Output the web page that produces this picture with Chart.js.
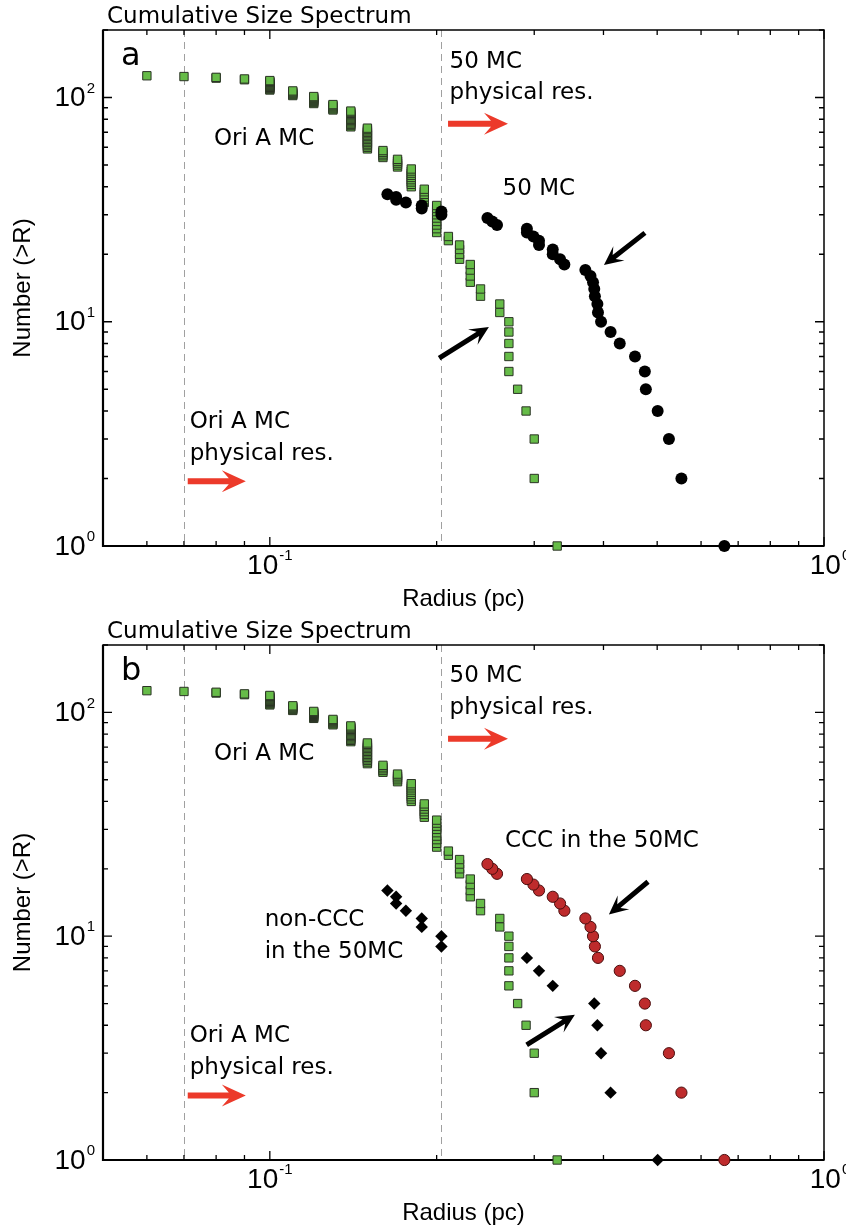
<!DOCTYPE html>
<html>
<head>
<meta charset="utf-8">
<title>Cumulative Size Spectrum</title>
<script src="https://cdn.jsdelivr.net/npm/chart.js@4.4.1/dist/chart.umd.min.js"></script>
<style>
    html, body { margin: 0; padding: 0; background: #fff; }
    canvas { display: block; }
</style>
</head>
<body>
<canvas id="graficoA" width="846" height="616"></canvas>
<canvas id="graficoB" width="846" height="616"></canvas>
<script>
// Ori A MC clumps (green squares): radius (pc) and cumulative number N(>R)
const oriRadius = [
    0.06,
    0.07,
    0.08, 0.08,
    0.09, 0.09,
    0.10, 0.10, 0.10, 0.10, 0.10, 0.10, 0.10, 0.10, 0.10, 0.10, 0.10, 0.10,
    0.11, 0.11, 0.11, 0.11, 0.11, 0.11,
    0.12, 0.12, 0.12, 0.12, 0.12, 0.12, 0.12, 0.12,
    0.13, 0.13, 0.13, 0.13, 0.13, 0.13,
    0.14, 0.14, 0.14, 0.14, 0.14, 0.14, 0.14, 0.14, 0.14, 0.14, 0.14, 0.14, 0.14, 0.14,
    0.15, 0.15, 0.15, 0.15, 0.15, 0.15, 0.15, 0.15, 0.15, 0.15, 0.15, 0.15, 0.15, 0.15, 0.15,
    0.16, 0.16, 0.16, 0.16, 0.16,
    0.17, 0.17, 0.17, 0.17, 0.17,
    0.18, 0.18, 0.18, 0.18, 0.18, 0.18, 0.18, 0.18, 0.18,
    0.19, 0.19, 0.19, 0.19, 0.19, 0.19,
    0.20, 0.20, 0.20, 0.20, 0.20, 0.20, 0.20, 0.20, 0.20,
    0.21, 0.21,
    0.22, 0.22, 0.22, 0.22,
    0.23, 0.23, 0.23, 0.23,
    0.24, 0.24,
    0.26, 0.26,
    0.27, 0.27, 0.27, 0.27, 0.27,
    0.28,
    0.29,
    0.30, 0.30,
    0.33
];
const oriN = [
    125,
    124,
    123, 122,
    121, 120,
    119, 118, 117, 116, 115, 114, 113, 112, 111, 110, 109, 108,
    107, 106, 105, 104, 103, 102,
    101, 100, 99, 98, 97, 96, 95, 94,
    93, 92, 91, 90, 89, 88,
    87, 86, 85, 84, 83, 82, 81, 80, 79, 78, 77, 76, 75, 74,
    73, 72, 71, 70, 69, 68, 67, 66, 65, 64, 63, 62, 61, 60, 59,
    58, 57, 56, 55, 54,
    53, 52, 51, 50, 49,
    48, 47, 46, 45, 44, 43, 42, 41, 40,
    39, 38, 37, 36, 35, 34,
    33, 32, 31, 30, 29, 28, 27, 26, 25,
    24, 23,
    22, 21, 20, 19,
    18, 17, 16, 15,
    14, 13,
    12, 11,
    10, 9, 8, 7, 6,
    5,
    4,
    3, 2,
    1
];

// 50 MC, all clumps (panel a, black circles)
const mcRadius = [0.163, 0.169, 0.169, 0.176, 0.188, 0.188, 0.204, 0.204, 0.247, 0.252,
    0.257, 0.291, 0.291, 0.299, 0.306, 0.306, 0.324, 0.324, 0.334, 0.340,
    0.371, 0.379, 0.383, 0.385, 0.386, 0.390, 0.391, 0.396, 0.412, 0.428,
    0.456, 0.475, 0.477, 0.501, 0.525, 0.553, 0.661];
const mcN = [37, 36, 35, 34, 33, 32, 31, 30, 29, 28,
    27, 26, 25, 24, 23, 22, 21, 20, 19, 18,
    17, 16, 15, 14, 13, 12, 11, 10, 9, 8,
    7, 6, 5, 4, 3, 2, 1];

// CCC in the 50MC (panel b, red circles)
const cccRadius = [0.247, 0.252, 0.257, 0.291, 0.299, 0.306, 0.324, 0.334, 0.340, 0.371,
    0.379, 0.383, 0.386, 0.391, 0.428, 0.456, 0.475, 0.477, 0.525, 0.553, 0.661];
const cccN = [21, 20, 19, 18, 17, 16, 15, 14, 13, 12, 11, 10, 9, 8, 7, 6, 5, 4, 3, 2, 1];

// non-CCC in the 50MC (panel b, black diamonds)
const nonCccRadius = [0.163, 0.169, 0.169, 0.176, 0.188, 0.188, 0.204, 0.204,
    0.291, 0.306, 0.324, 0.385, 0.390, 0.396, 0.412, 0.501];
const nonCccN = [16, 15, 14, 13, 12, 11, 10, 9, 8, 7, 6, 5, 4, 3, 2, 1];

// physical resolution limits (dashed lines)
const resLines = [0.07, 0.204];

// axes
const xTicks = [0.05, 0.06, 0.07, 0.08, 0.09, 0.1, 0.2, 0.3, 0.4, 0.5, 0.6, 0.7, 0.8, 0.9, 1];
const yTicks = [1, 2, 3, 4, 5, 6, 7, 8, 9, 10, 20, 30, 40, 50, 60, 70, 80, 90, 100, 200];
const xLabelValues = [0.1, 1];
const xLabelExps = ['-1', '0'];
const yLabelValues = [1, 10, 100];
const yLabelExps = ['0', '1', '2'];

const TEXT_FONT = '23px "DejaVu Sans", sans-serif';
const AXIS_FONT = '24px "Liberation Sans Narrow", "Liberation Sans", sans-serif';
const TICK_FONT = '28px "Liberation Sans Narrow", "Liberation Sans", sans-serif';
const SUP_FONT = '15px "Liberation Sans Narrow", "Liberation Sans", sans-serif';
const RED = '#ec3a2a';

const notesA = {
    letter: 'a',
    texts: [
        { text: '50 MC', x: 0.211, y: 136 },
        { text: 'physical res.', x: 0.211, y: 98 },
        { text: 'Ori A MC', x: 0.0793, y: 61.5 },
        { text: '50 MC', x: 0.263, y: 36.8 },
        { text: 'Ori A MC', x: 0.0717, y: 3.35 },
        { text: 'physical res.', x: 0.0717, y: 2.41 }
    ],
    arrows: [
        { from: [0.2097, 76.3], to: [0.2690, 76.3], color: RED, w: 6, len: 24, half: 11, notch: 7 },
        { from: [0.0711, 1.944], to: [0.0905, 1.944], color: RED, w: 6, len: 24, half: 11, notch: 7 },
        { from: [0.4752, 24.9], to: [0.4008, 17.9], color: '#000', w: 5, len: 19, half: 9, notch: 6 },
        { from: [0.2021, 6.89], to: [0.2485, 9.47], color: '#000', w: 5, len: 19, half: 9, notch: 6 }
    ]
};

const notesB = {
    letter: 'b',
    texts: [
        { text: '50 MC', x: 0.211, y: 136 },
        { text: 'physical res.', x: 0.211, y: 98 },
        { text: 'Ori A MC', x: 0.0793, y: 61.5 },
        { text: 'CCC in the 50MC', x: 0.2656, y: 25.1 },
        { text: 'non-CCC', x: 0.0979, y: 11.1 },
        { text: 'in the 50MC', x: 0.0979, y: 8.0 },
        { text: 'Ori A MC', x: 0.0717, y: 3.35 },
        { text: 'physical res.', x: 0.0717, y: 2.41 }
    ],
    arrows: [
        { from: [0.2097, 76.3], to: [0.2690, 76.3], color: RED, w: 6, len: 24, half: 11, notch: 7 },
        { from: [0.0711, 1.944], to: [0.0905, 1.944], color: RED, w: 6, len: 24, half: 11, notch: 7 },
        { from: [0.4813, 17.5], to: [0.4091, 12.5], color: '#000', w: 5, len: 19, half: 9, notch: 6 },
        { from: [0.2907, 3.27], to: [0.3552, 4.46], color: '#000', w: 5, len: 19, half: 9, notch: 6 }
    ]
};

function pontos(xs, ys) {
    // larger radii first so the upper squares of a stack end up on top
    return xs.map((v, i) => ({ x: v, y: ys[i] })).reverse();
}

function drawArrow(ctx, x1, y1, x2, y2, a) {
    let dx = x2 - x1, dy = y2 - y1;
    let d = Math.hypot(dx, dy);
    let ux = dx / d, uy = dy / d, nx = -uy, ny = ux;
    let bx = x2 - ux * a.len, by = y2 - uy * a.len;
    let kx = x2 - ux * (a.len - a.notch), ky = y2 - uy * (a.len - a.notch);
    ctx.fillStyle = a.color;
    ctx.beginPath();
    ctx.moveTo(x1 + nx * a.w / 2, y1 + ny * a.w / 2);
    ctx.lineTo(kx + nx * a.w / 2, ky + ny * a.w / 2);
    ctx.lineTo(bx + nx * a.half, by + ny * a.half);
    ctx.lineTo(x2, y2);
    ctx.lineTo(bx - nx * a.half, by - ny * a.half);
    ctx.lineTo(kx - nx * a.w / 2, ky - ny * a.w / 2);
    ctx.lineTo(x1 - nx * a.w / 2, y1 - ny * a.w / 2);
    ctx.closePath();
    ctx.fill();
}

function drawPower(ctx, exp, x, y, align) {
    ctx.font = TICK_FONT;
    let wb = ctx.measureText('10').width;
    ctx.font = SUP_FONT;
    let ws = ctx.measureText(exp).width;
    let total = wb + 1 + ws;
    let left = align === 'right' ? x - total : x - total / 2;
    ctx.textAlign = 'left';
    ctx.textBaseline = 'middle';
    ctx.font = TICK_FONT;
    ctx.fillText('10', left, y);
    ctx.font = SUP_FONT;
    ctx.fillText(exp, left + wb + 1, y - 10);
}

function decoracao(notes) {
    return {
        id: 'decoracao',
        beforeDatasetsDraw(chart) {
            let ctx = chart.ctx;
            let a = chart.chartArea;
            let sx = chart.scales.x, sy = chart.scales.y;
            ctx.save();

            // dashed resolution lines
            ctx.strokeStyle = '#a0a0a0';
            ctx.lineWidth = 1;
            ctx.setLineDash([7, 5]);
            resLines.forEach((v) => {
                let px = Math.round(sx.getPixelForValue(v)) + 0.5;
                ctx.beginPath();
                ctx.moveTo(px, a.top);
                ctx.lineTo(px, a.bottom);
                ctx.stroke();
            });
            ctx.setLineDash([]);

            // inward ticks on all four sides
            ctx.strokeStyle = '#000';
            ctx.lineWidth = 1.3;
            xTicks.forEach((v) => {
                let px = sx.getPixelForValue(v);
                let t = xLabelValues.includes(v) ? 9 : 5;
                ctx.beginPath();
                ctx.moveTo(px, a.bottom); ctx.lineTo(px, a.bottom - t);
                ctx.moveTo(px, a.top); ctx.lineTo(px, a.top + t);
                ctx.stroke();
            });
            yTicks.forEach((v) => {
                let py = sy.getPixelForValue(v);
                let t = yLabelValues.includes(v) ? 9 : 5;
                ctx.beginPath();
                ctx.moveTo(a.left, py); ctx.lineTo(a.left + t, py);
                ctx.moveTo(a.right, py); ctx.lineTo(a.right - t, py);
                ctx.stroke();
            });

            // frame, left and bottom a bit heavier
            ctx.lineWidth = 1.5;
            ctx.strokeRect(a.left, a.top, a.right - a.left, a.bottom - a.top);
            ctx.lineWidth = 2.2;
            ctx.beginPath();
            ctx.moveTo(a.left, a.top);
            ctx.lineTo(a.left, a.bottom);
            ctx.lineTo(a.right, a.bottom);
            ctx.stroke();

            // tick labels
            ctx.fillStyle = '#000';
            yLabelValues.forEach((v, i) => {
                drawPower(ctx, yLabelExps[i], a.left - 8, sy.getPixelForValue(v) + 1, 'right');
            });
            xLabelValues.forEach((v, i) => {
                drawPower(ctx, xLabelExps[i], sx.getPixelForValue(v) + (v === 1 ? 6 : 0), a.bottom + 20, 'center');
            });

            // axis titles and heading
            ctx.font = AXIS_FONT;
            ctx.textAlign = 'center';
            ctx.textBaseline = 'alphabetic';
            ctx.fillText('Radius (pc)', (a.left + a.right) / 2, a.bottom + 60);
            ctx.save();
            ctx.translate(30, (a.top + a.bottom) / 2);
            ctx.rotate(-Math.PI / 2);
            ctx.fillText('Number (>R)', 0, 0);
            ctx.restore();

            ctx.font = TEXT_FONT;
            ctx.textAlign = 'left';
            ctx.fillText('Cumulative Size Spectrum', a.left + 4, a.top - 7);
            ctx.restore();
        },
        afterDatasetsDraw(chart) {
            let ctx = chart.ctx;
            let a = chart.chartArea;
            let sx = chart.scales.x, sy = chart.scales.y;
            ctx.save();
            ctx.fillStyle = '#000';
            ctx.textAlign = 'left';
            ctx.textBaseline = 'alphabetic';
            ctx.font = '32px "DejaVu Sans", sans-serif';
            ctx.fillText(notes.letter, a.left + 18, a.top + 35);

            ctx.font = TEXT_FONT;
            notes.texts.forEach((t) => {
                ctx.fillText(t.text, sx.getPixelForValue(t.x), sy.getPixelForValue(t.y));
            });
            notes.arrows.forEach((ar) => {
                drawArrow(ctx,
                    sx.getPixelForValue(ar.from[0]), sy.getPixelForValue(ar.from[1]),
                    sx.getPixelForValue(ar.to[0]), sy.getPixelForValue(ar.to[1]), ar);
            });
            ctx.restore();
        }
    };
}

function estiloOri() {
    return {
        data: pontos(oriRadius, oriN),
        pointStyle: 'rect',
        pointRadius: 5.9,
        backgroundColor: '#66bc48',
        borderColor: '#2b3325',
        borderWidth: 1,
        clip: false,
        order: 2
    };
}

function criarPainel(id, datasets, padding, notes) {
    return new Chart(document.getElementById(id), {
        type: 'scatter',
        data: { datasets: datasets },
        options: {
            responsive: false,
            animation: false,
            events: [],
            layout: { padding: padding },
            plugins: { legend: { display: false }, tooltip: { enabled: false } },
            scales: {
                x: { type: 'logarithmic', min: 0.05, max: 1, display: false },
                y: { type: 'logarithmic', min: 1, max: 200, display: false }
            }
        },
        plugins: [decoracao(notes)]
    });
}

criarPainel('graficoA', [
    {
        data: pontos(mcRadius, mcN),
        pointStyle: 'circle',
        pointRadius: 6,
        backgroundColor: '#000',
        borderWidth: 0,
        clip: false,
        order: 0
    },
    estiloOri()
], { left: 103, right: 22, top: 30, bottom: 70 }, notesA);

criarPainel('graficoB', [
    {
        data: pontos(cccRadius, cccN),
        pointStyle: 'circle',
        pointRadius: 5.6,
        backgroundColor: '#be2b2c',
        borderColor: '#4a0d0d',
        borderWidth: 1,
        clip: false,
        order: 0
    },
    {
        data: pontos(nonCccRadius, nonCccN),
        pointStyle: 'rectRot',
        pointRadius: 6.2,
        backgroundColor: '#000',
        borderWidth: 0,
        clip: false,
        order: 1
    },
    estiloOri()
], { left: 103, right: 22, top: 29, bottom: 72 }, notesB);
</script>
</body>
</html>
